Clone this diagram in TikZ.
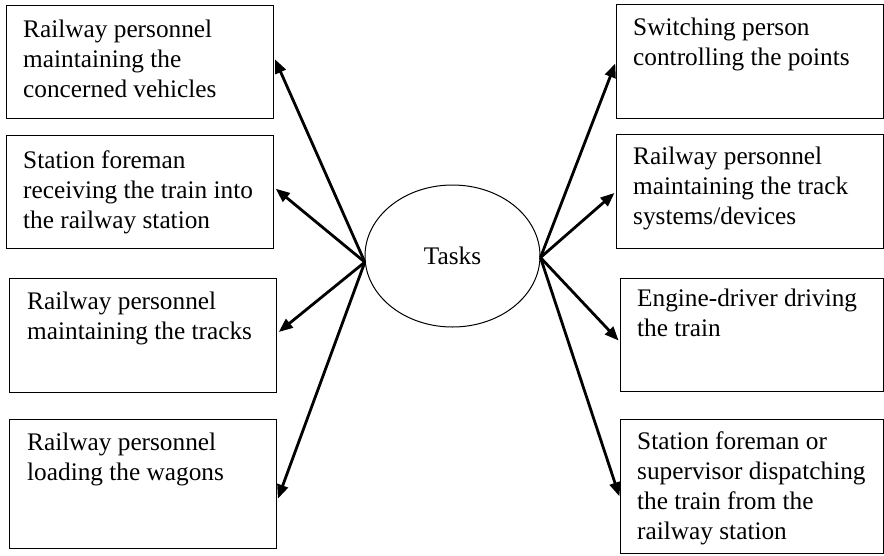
\documentclass[tikz,border=0pt]{standalone}
\usepackage{fontspec}
\setmainfont{Liberation Serif}
\usetikzlibrary{shapes.geometric,arrows.meta,calc}

\tikzset{
  box/.style={draw, line width=1.2pt, rectangle, anchor=north west, inner sep=0pt},
  boxtext/.style={anchor=north west, inner sep=0pt, align=left,
                  font=\fontsize{25.3}{30}\selectfont},
  hub/.style={draw, ellipse, line width=1pt, inner sep=0pt,
              minimum width=175pt, minimum height=142pt,
              font=\fontsize{25.3}{30}\selectfont},
  arr/.style={line width=2.8pt, -{Triangle[length=14pt,width=11pt]}, shorten >=2pt}
}

\begin{document}
\begin{tikzpicture}[x=1pt,y=-1pt]
\useasboundingbox (0,0) rectangle (884,555);

% central ellipse
\node[hub] (T) at (452.5,256) {Tasks};

% left column
\node[box, minimum width=267pt, minimum height=113pt] (L1) at (6,5) {};
\node[box, minimum width=267pt, minimum height=113pt] (L2) at (6,135) {};
\node[box, minimum width=267pt, minimum height=114pt] (L3) at (9,278) {};
\node[box, minimum width=267pt, minimum height=129pt] (L4) at (9,419) {};

\node[boxtext] (L1t) at ($(L1.north west)+(17,15)$) {Railway personnel\\maintaining the\\concerned vehicles};
\node[boxtext] (L2t) at ($(L2.north west)+(17,15)$) {Station foreman\\receiving the train into\\the railway station};
\node[boxtext] (L3t) at ($(L3.north west)+(18,14)$) {Railway personnel\\maintaining the tracks};
\node[boxtext] (L4t) at ($(L4.north west)+(18,14)$) {Railway personnel\\loading the wagons};

% right column
\node[box, minimum width=267pt, minimum height=114pt] (R1) at (616,4) {};
\node[box, minimum width=267pt, minimum height=114pt] (R2) at (616,134) {};
\node[box, minimum width=263pt, minimum height=113pt] (R3) at (620,278) {};
\node[box, minimum width=263pt, minimum height=134pt] (R4) at (620,419) {};

\node[boxtext] (R1t) at ($(R1.north west)+(17,14)$) {Switching person\\controlling the points};
\node[boxtext] (R2t) at ($(R2.north west)+(17,13)$) {Railway personnel\\maintaining the track\\systems/devices};
\node[boxtext] (R3t) at ($(R3.north west)+(17,11)$) {Engine-driver driving\\the train};
\node[boxtext] (R4t) at ($(R4.north west)+(17,12)$) {Station foreman or\\supervisor dispatching\\the train from the\\railway station};

% connectors
\draw[arr] (T.184) -- (L1.2);
\draw[arr] (T.184) -- (L2.2);
\draw[arr] (T.184) -- (L3.1);
\draw[arr] (T.184) -- (L4.-7);
\draw[arr] (T.-1) -- (R1.180);
\draw[arr] (T.-1) -- (R2.180);
\draw[arr] (T.-1) -- (R3.183);
\draw[arr] (T.-1) -- (R4.185);
\end{tikzpicture}
\end{document}
